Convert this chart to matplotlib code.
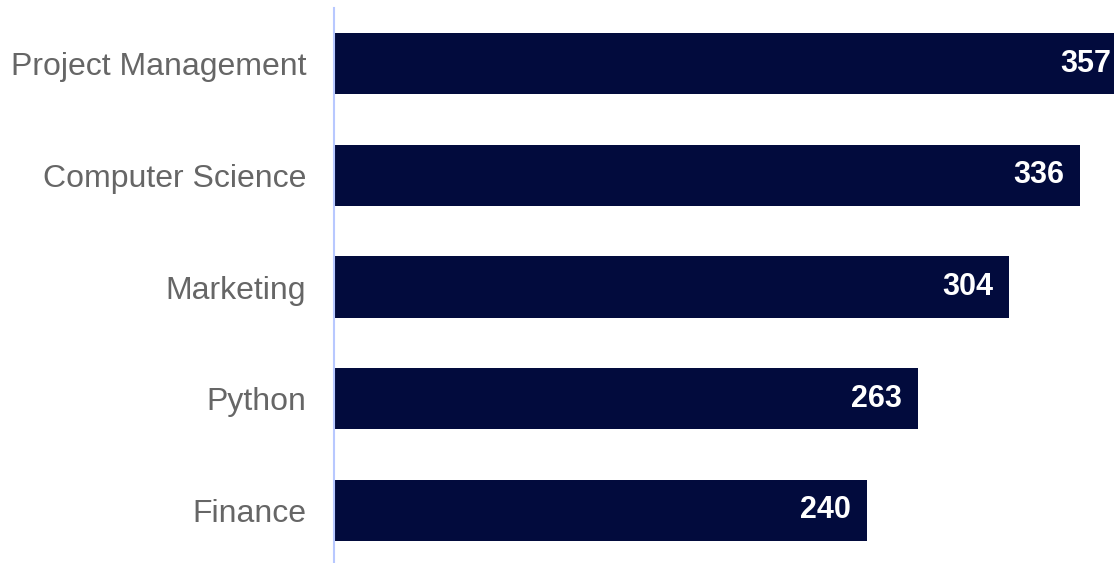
import matplotlib.pyplot as plt

categories = ["Project Management", "Computer Science", "Marketing", "Python", "Finance"]
values = [357, 336, 304, 263, 240]

bar_color = "#020B3D"
axis_color = "#B8C8FF"
label_color = "#666666"

plt.rcParams['font.family'] = ['Liberation Sans', 'DejaVu Sans']

fig = plt.figure(figsize=(11.14, 5.63), dpi=100)
ax = fig.add_axes([334 / 1114, -3 / 563, 780 / 1114, 558 / 563])

# top category first
ypos = list(range(len(categories)))[::-1]
ax.barh(ypos, values, height=0.55, color=bar_color)

for y, v in zip(ypos, values):
    ax.text(v - 7, y, str(v), ha='right', va='center', color='white',
            fontsize=22, fontweight='bold')

ax.set_xlim(0, 780 / 2.22)
ax.set_ylim(-0.5, 4.5)
ax.set_yticks(ypos)
ax.set_yticklabels(categories, fontsize=23, color=label_color)
ax.tick_params(axis='y', length=0, pad=20)
ax.set_xticks([])

for side in ['top', 'right', 'bottom']:
    ax.spines[side].set_visible(False)
ax.spines['left'].set_color(axis_color)
ax.spines['left'].set_linewidth(1.5)

fig.savefig("out.png", dpi=100)
